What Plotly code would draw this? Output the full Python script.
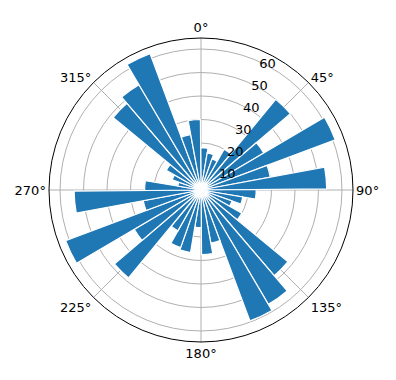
import plotly.graph_objects as go

# bar centres (degrees, clockwise from north)
theta_deg = [4.5, 14.5, 24.5, 34.5, 44.5, 54.5, 64.5, 74.5, 84.5,
             94.5, 104.5, 114.5, 124.5, 134.5, 144.5, 154.5, 164.5, 174.5,
             184.5, 194.5, 204.5, 214.5, 224.5, 234.5, 244.5, 254.5, 264.5,
             274.5, 284.5, 294.5, 304.5, 314.5, 324.5, 334.5, 344.5, 354.5]
radii = [18, 16, 14, 20, 50, 31, 61, 30, 53.5,
         23.5, 18, 14, 20, 48, 56.5, 59.5, 23, 27.5,
         16, 27, 26, 20, 48.5, 33, 61.5, 25, 54,
         24, 10, 13, 17, 48.5, 52, 62, 24, 30]
bar_width_deg = 10

angle_ticks = [0, 45, 90, 135, 180, 225, 270, 315]
angle_labels = ["0°", "45°", "90°", "135°", "180°", "225°", "270°", "315°"]
radial_ticks = [10, 20, 30, 40, 50, 60]
radial_labels = ["10", "20", "30", "40", "50", "60"]

fig = go.Figure(go.Barpolar(
    r=radii, theta=theta_deg, width=[bar_width_deg] * len(radii),
    marker=dict(color="#1f77b4", line=dict(color="white", width=1.2)),
    opacity=1,
))

font = dict(family="DejaVu Sans", size=13, color="black")
fig.update_layout(
    width=396, height=380,
    margin=dict(l=0, r=0, t=0, b=0),
    paper_bgcolor="white", plot_bgcolor="white",
    showlegend=False,
    font=font,
    polar=dict(
        domain=dict(x=[49 / 396, 353 / 396], y=[38 / 380, 342 / 380]),
        bgcolor="white",
        bargap=0,
        angularaxis=dict(
            rotation=90, direction="clockwise",
            tickmode="array", tickvals=angle_ticks, ticktext=angle_labels,
            showline=True, linecolor="black", linewidth=1,
            showgrid=True, gridcolor="#b0b0b0", gridwidth=0.8,
            ticks="", tickfont=font, layer="below traces",
        ),
        radialaxis=dict(
            range=[0, 64.7], tickmode="array", tickvals=radial_ticks, ticktext=radial_labels,
            showline=False,
            ticks="outside", ticklen=1, tickcolor="rgba(0,0,0,0)",
            angle=70, tickangle=70, side="clockwise",
            showgrid=True, gridcolor="#b0b0b0", gridwidth=0.8,
            tickfont=font, layer="above traces",
        ),
    ),
)
fig.write_html("out.html")
